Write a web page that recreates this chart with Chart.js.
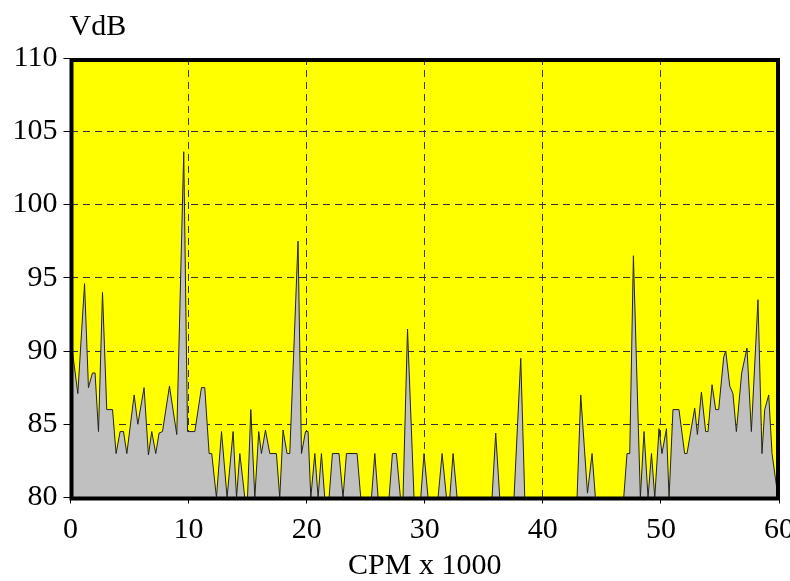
<!DOCTYPE html>
<html>
<head>
<meta charset="utf-8">
<title>VdB vs CPM</title>
<script src="https://cdn.jsdelivr.net/npm/chart.js@4/dist/chart.umd.min.js"></script>
<style>
  body { margin: 0; background: #fff; }
  canvas { display: block; }
</style>
</head>
<body>
<canvas id="espectro" width="790" height="581"></canvas>
<script>
// Datos del espectro
const cpm = [0, 0.62, 1.19, 1.52, 1.86, 2.08, 2.37, 2.71, 3.07, 3.56, 3.86, 4.20, 4.49, 4.77,
  5.39, 5.70, 6.23, 6.60, 6.88, 7.22, 7.50, 7.79, 8.38, 9.00, 9.59, 9.91, 10.53, 11.09, 11.37,
  11.74, 11.96, 12.36, 12.79, 13.26, 13.77, 14.06, 14.34, 14.76, 14.99, 15.27, 15.61, 15.94,
  16.17, 16.51, 16.88, 17.44, 17.72, 18.00, 18.34, 18.57, 19.27, 19.56, 19.90, 20.12, 20.35,
  20.69, 20.97, 21.25, 21.53, 21.90, 22.18, 22.74, 23.08, 23.37, 24.27, 24.58, 25.49, 25.77,
  26.05, 26.98, 27.26, 27.60, 27.94, 28.16, 28.54, 29.09, 29.66, 29.94, 30.28, 31.13, 31.47,
  31.84, 32.12, 32.40, 32.74, 35.70, 36.01, 36.35, 37.56, 38.13, 38.47, 42.90, 43.21, 43.78,
  44.17, 44.45, 46.85, 47.13, 47.36, 47.67, 48.26, 48.57, 48.91, 49.20, 49.48, 49.84, 50.09,
  50.47, 50.69, 51.02, 51.53, 52.01, 52.21, 52.86, 53.09, 53.43, 53.79, 53.99, 54.33, 54.64,
  54.89, 55.32, 55.49, 55.83, 56.10, 56.39, 56.84, 57.29, 57.66, 58.22, 58.56, 58.79, 59.13,
  59.41, 59.92];
const vdb = [91.0, 87.1, 94.6, 87.5, 88.5, 88.5, 84.5, 94.0, 86.0, 86.0, 83.0, 84.5, 84.5, 83.0,
  87.0, 85.0, 87.5, 82.9, 84.5, 83.0, 84.4, 84.5, 87.6, 84.3, 103.6, 84.5, 84.5, 87.5, 87.5,
  83.0, 83.0, 80, 84.5, 80, 84.5, 80, 83.0, 80, 80, 86.0, 80, 84.5,
  83.0, 84.6, 83.0, 83.0, 80, 84.6, 83.0, 83.0, 97.5, 83.0, 84.5, 84.5, 80,
  83.0, 80, 83.0, 80, 80, 83.0, 83.0, 80, 83.0, 83.0, 80, 80, 83.0,
  80, 80, 83.0, 83.0, 80, 80, 91.5, 80, 80, 83.0, 80, 80, 83.0,
  80, 80, 83.0, 80, 80, 84.4, 80, 80, 89.5, 80, 80, 87.0, 80.3,
  83.0, 80, 80, 83.0, 83.0, 96.5, 80, 84.5, 80, 83.0, 80, 84.7, 83.0,
  84.7, 80, 86.0, 86.0, 83.0, 83.0, 86.1, 84.3, 87.2, 84.5, 84.5, 87.7, 86.0,
  86.0, 89.6, 90.0, 87.6, 87.1, 84.5, 88.5, 90.2, 84.5, 93.5, 83.0, 86.0, 87.0,
  83.0, 80];
const xTicks = [0, 10, 20, 30, 40, 50, 60];
const yTicks = [80, 85, 90, 95, 100, 105, 110];

const puntos = cpm.map((x, i) => ({ x: x, y: vdb[i] }));
const fuente = { family: "'Liberation Serif', 'Times New Roman', serif", size: 30 };

// Fondo amarillo, marco negro y etiqueta VdB
const marco = {
  id: 'marco',
  beforeDraw(chart) {
    const a = chart.chartArea, ctx = chart.ctx;
    ctx.save();
    ctx.fillStyle = '#ffff00';
    ctx.fillRect(a.left, a.top, a.right - a.left, a.bottom - a.top);
    ctx.restore();
  },
  afterDatasetsDraw(chart) {
    const a = chart.chartArea, ctx = chart.ctx;
    ctx.save();
    ctx.strokeStyle = '#000';
    ctx.lineWidth = 4;
    ctx.strokeRect(a.left + 1, a.top + 2, a.right - a.left - 2, a.bottom - a.top - 1);
    ctx.fillStyle = '#000';
    ctx.font = "30px 'Liberation Serif', serif";
    ctx.textAlign = 'left';
    ctx.textBaseline = 'middle';
    ctx.fillText('VdB', a.left - 1, 27);
    ctx.restore();
  }
};

new Chart(document.getElementById('espectro'), {
  type: 'line',
  data: {
    datasets: [{
      data: puntos,
      borderColor: '#222',
      borderWidth: 1,
      backgroundColor: '#c0c0c0',
      fill: 'start',
      pointRadius: 0,
      tension: 0
    }]
  },
  options: {
    responsive: false,
    animation: false,
    layout: { padding: { top: 58, right: 11, bottom: 0, left: 0 } },
    plugins: { legend: { display: false }, tooltip: { enabled: false } },
    scales: {
      x: {
        type: 'linear',
        min: 0,
        max: 60,
        afterBuildTicks: s => { s.ticks = xTicks.map(v => ({ value: v })); },
        afterFit: s => { s.height = 83.5; s.paddingRight = 0; s.paddingLeft = 0; },
        grid: { color: '#333', lineWidth: 1, tickLength: 6, tickColor: '#000' },
        border: { display: true, color: '#000', width: 1, dash: [7, 5] },
        ticks: { color: '#000', font: fuente, padding: 9, maxRotation: 0 },
        title: { display: true, text: 'CPM x 1000', color: '#000', font: fuente, padding: { top: 0, bottom: -3 } }
      },
      y: {
        min: 80,
        max: 110,
        afterBuildTicks: s => { s.ticks = yTicks.map(v => ({ value: v })); },
        afterFit: s => { s.width = 70.5; },
        grid: { color: '#333', lineWidth: 1, tickLength: 7, tickColor: '#000' },
        border: { display: true, color: '#000', width: 1, dash: [7, 5] },
        ticks: { color: '#000', font: fuente, padding: 6 }
      }
    }
  },
  plugins: [marco]
});
</script>
</body>
</html>
